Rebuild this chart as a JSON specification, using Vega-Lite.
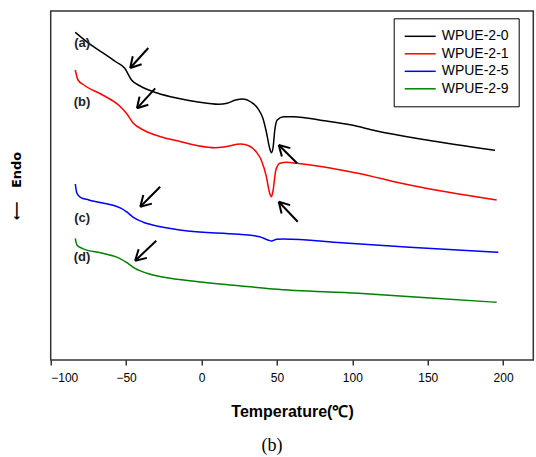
{
  "$schema": "https://vega.github.io/schema/vega-lite/v6.json",
  "width": 482.6,
  "height": 349,
  "autosize": "none",
  "padding": {"left": 50.7, "top": 11, "right": 2.7, "bottom": 97},
  "config": {"view": {"stroke": "#333333", "strokeWidth": 1.5}, "font": "Liberation Sans"},
  "title": {"text": "(b)", "orient": "bottom", "font": "Liberation Serif", "fontSize": 18, "fontWeight": "normal", "color": "black", "offset": 18, "dx": -20},
  "datasets": {
    "curves": [
      {"s": "WPUE-2-0", "t": -83.7, "v": 327.7}, {"s": "WPUE-2-0", "t": -74.7, "v": 316.7}, {"s": "WPUE-2-0", "t": -65.6, "v": 307.4}, {"s": "WPUE-2-0", "t": -56.6, "v": 298}, {"s": "WPUE-2-0", "t": -50.9, "v": 291.7}, {"s": "WPUE-2-0", "t": -46.4, "v": 280}, {"s": "WPUE-2-0", "t": -40.7, "v": 274}, {"s": "WPUE-2-0", "t": -29.4, "v": 267}, {"s": "WPUE-2-0", "t": -15.8, "v": 261.7}, {"s": "WPUE-2-0", "t": -2.3, "v": 258}, {"s": "WPUE-2-0", "t": 11.3, "v": 255.7}, {"s": "WPUE-2-0", "t": 17, "v": 256.7}, {"s": "WPUE-2-0", "t": 22.6, "v": 260}, {"s": "WPUE-2-0", "t": 27.6, "v": 261}, {"s": "WPUE-2-0", "t": 32.8, "v": 258}, {"s": "WPUE-2-0", "t": 37.3, "v": 251.7}, {"s": "WPUE-2-0", "t": 40.7, "v": 241.7}, {"s": "WPUE-2-0", "t": 43, "v": 228}, {"s": "WPUE-2-0", "t": 45.2, "v": 211.7}, {"s": "WPUE-2-0", "t": 46.4, "v": 207.3}, {"s": "WPUE-2-0", "t": 47.5, "v": 213}, {"s": "WPUE-2-0", "t": 48.6, "v": 230}, {"s": "WPUE-2-0", "t": 50.2, "v": 240}, {"s": "WPUE-2-0", "t": 54.3, "v": 243.3}, {"s": "WPUE-2-0", "t": 61, "v": 243.3}, {"s": "WPUE-2-0", "t": 81.4, "v": 239.3}, {"s": "WPUE-2-0", "t": 99.5, "v": 235}, {"s": "WPUE-2-0", "t": 115.4, "v": 229.3}, {"s": "WPUE-2-0", "t": 149.3, "v": 220}, {"s": "WPUE-2-0", "t": 194.6, "v": 209.7},
      {"s": "WPUE-2-1", "t": -83.7, "v": 290}, {"s": "WPUE-2-1", "t": -81.9, "v": 280}, {"s": "WPUE-2-1", "t": -78, "v": 275}, {"s": "WPUE-2-1", "t": -65.6, "v": 265}, {"s": "WPUE-2-1", "t": -54.3, "v": 254}, {"s": "WPUE-2-1", "t": -49.8, "v": 246.7}, {"s": "WPUE-2-1", "t": -45.2, "v": 236.7}, {"s": "WPUE-2-1", "t": -38.5, "v": 230}, {"s": "WPUE-2-1", "t": -27.1, "v": 223.3}, {"s": "WPUE-2-1", "t": -13.6, "v": 218.3}, {"s": "WPUE-2-1", "t": -2.3, "v": 214.3}, {"s": "WPUE-2-1", "t": 9, "v": 212.3}, {"s": "WPUE-2-1", "t": 15.8, "v": 213.3}, {"s": "WPUE-2-1", "t": 26, "v": 216}, {"s": "WPUE-2-1", "t": 31.7, "v": 214}, {"s": "WPUE-2-1", "t": 36.2, "v": 208.3}, {"s": "WPUE-2-1", "t": 39.6, "v": 200}, {"s": "WPUE-2-1", "t": 43, "v": 183.3}, {"s": "WPUE-2-1", "t": 45.2, "v": 166.7}, {"s": "WPUE-2-1", "t": 46.4, "v": 163.3}, {"s": "WPUE-2-1", "t": 47.5, "v": 170}, {"s": "WPUE-2-1", "t": 49.3, "v": 190}, {"s": "WPUE-2-1", "t": 52, "v": 196.7}, {"s": "WPUE-2-1", "t": 56.6, "v": 197.7}, {"s": "WPUE-2-1", "t": 63.3, "v": 196.7}, {"s": "WPUE-2-1", "t": 101.8, "v": 187.3}, {"s": "WPUE-2-1", "t": 138, "v": 175}, {"s": "WPUE-2-1", "t": 195.7, "v": 160},
      {"s": "WPUE-2-5", "t": -83.7, "v": 176}, {"s": "WPUE-2-5", "t": -82.6, "v": 166.7}, {"s": "WPUE-2-5", "t": -80.3, "v": 162.7}, {"s": "WPUE-2-5", "t": -74.7, "v": 160}, {"s": "WPUE-2-5", "t": -53.2, "v": 151.7}, {"s": "WPUE-2-5", "t": -49.8, "v": 148.3}, {"s": "WPUE-2-5", "t": -45.2, "v": 142.7}, {"s": "WPUE-2-5", "t": -38.5, "v": 137.7}, {"s": "WPUE-2-5", "t": -27.1, "v": 133.3}, {"s": "WPUE-2-5", "t": -9, "v": 129}, {"s": "WPUE-2-5", "t": 24.9, "v": 125.7}, {"s": "WPUE-2-5", "t": 38.5, "v": 123.3}, {"s": "WPUE-2-5", "t": 44.1, "v": 120}, {"s": "WPUE-2-5", "t": 46.4, "v": 119}, {"s": "WPUE-2-5", "t": 49.8, "v": 120.7}, {"s": "WPUE-2-5", "t": 54.3, "v": 121}, {"s": "WPUE-2-5", "t": 92.8, "v": 117.3}, {"s": "WPUE-2-5", "t": 138, "v": 112.7}, {"s": "WPUE-2-5", "t": 196.8, "v": 107.7},
      {"s": "WPUE-2-9", "t": -83.7, "v": 121.7}, {"s": "WPUE-2-9", "t": -82.6, "v": 115}, {"s": "WPUE-2-9", "t": -79.2, "v": 111.7}, {"s": "WPUE-2-9", "t": -65.6, "v": 106.7}, {"s": "WPUE-2-9", "t": -54.3, "v": 101.7}, {"s": "WPUE-2-9", "t": -49.8, "v": 97.7}, {"s": "WPUE-2-9", "t": -44.1, "v": 91.7}, {"s": "WPUE-2-9", "t": -36.2, "v": 86.7}, {"s": "WPUE-2-9", "t": -24.9, "v": 82.7}, {"s": "WPUE-2-9", "t": -2.3, "v": 78.3}, {"s": "WPUE-2-9", "t": 24.9, "v": 74.3}, {"s": "WPUE-2-9", "t": 47.5, "v": 71}, {"s": "WPUE-2-9", "t": 104.1, "v": 66.7}, {"s": "WPUE-2-9", "t": 149.3, "v": 62.3}, {"s": "WPUE-2-9", "t": 195.7, "v": 57.7}
    ],
    "labels": [
      {"label": "(a)", "t": -79.2, "v": 316.7},
      {"label": "(b)", "t": -79.2, "v": 258.3},
      {"label": "(c)", "t": -79.2, "v": 141.7},
      {"label": "(d)", "t": -79.2, "v": 103.3}
    ],
    "arrows": [
      {"t": -47.3, "v": 292, "t2": -35.3, "v2": 312}, {"t": -47.3, "v": 292, "t2": -39.7, "v2": 295.7}, {"t": -47.3, "v": 292, "t2": -45.6, "v2": 303.7},
      {"t": -42.8, "v": 251.7, "t2": -30.7, "v2": 271.7}, {"t": -42.8, "v": 251.7, "t2": -35.3, "v2": 255.3}, {"t": -42.8, "v": 251.7, "t2": -41.1, "v2": 263.4},
      {"t": 51.2, "v": 215, "t2": 63.4, "v2": 196.7}, {"t": 51.2, "v": 215, "t2": 53.3, "v2": 203.4}, {"t": 51.2, "v": 215, "t2": 58.9, "v2": 211.9},
      {"t": 51.2, "v": 158.3, "t2": 63.8, "v2": 138.3}, {"t": 51.2, "v": 158.3, "t2": 53.1, "v2": 146.6}, {"t": 51.2, "v": 158.3, "t2": 58.8, "v2": 154.9},
      {"t": -40.6, "v": 153.3, "t2": -27.4, "v2": 173.3}, {"t": -40.6, "v": 153.3, "t2": -32.9, "v2": 156.4}, {"t": -40.6, "v": 153.3, "t2": -38.6, "v2": 164.9},
      {"t": -44.0, "v": 99.3, "t2": -30.0, "v2": 119.3}, {"t": -44.0, "v": 99.3, "t2": -36.2, "v2": 102.1}, {"t": -44.0, "v": 99.3, "t2": -41.7, "v2": 110.8}
    ]
  },
  "layer": [
    {
      "data": {"name": "curves"},
      "mark": {"type": "line", "strokeWidth": 1.5, "interpolate": "monotone"},
      "encoding": {
        "x": {"field": "t", "type": "quantitative",
          "scale": {"domain": [-100, 220], "nice": false, "zero": false},
          "axis": {"values": [-100, -50, 0, 50, 100, 150, 200], "domain": false, "grid": false, "tickSize": 5, "tickColor": "black", "tickWidth": 1.2,
            "labelFont": "Liberation Sans", "labelFontSize": 12, "labelColor": "black", "labelPadding": 7,
            "title": "Temperature(℃)", "titleFont": "Liberation Sans", "titleFontSize": 16, "titleFontWeight": "bold", "titleColor": "black", "titlePadding": 20}},
        "y": {"field": "v", "type": "quantitative",
          "scale": {"domain": [0, 349], "nice": false, "zero": false},
          "axis": {"labels": false, "ticks": false, "domain": false, "grid": false,
            "title": "⟵\u00a0\u00a0\u00a0Endo", "titleFont": "DejaVu Sans", "titleFontSize": 13, "titleFontWeight": "bold", "titleColor": "black", "titlePadding": 27}},
        "color": {"field": "s", "type": "nominal",
          "scale": {"domain": ["WPUE-2-0", "WPUE-2-1", "WPUE-2-5", "WPUE-2-9"], "range": ["#000000", "#ff0000", "#0000ff", "#008000"]},
          "legend": {"title": null, "orient": "none", "legendX": 343, "legendY": 7.3, "strokeColor": "black", "fillColor": "white", "padding": 10,
            "symbolType": "M-1,0H3.43", "symbolSize": 196, "symbolStrokeWidth": 1.5, "labelFont": "Liberation Sans", "labelFontSize": 14, "labelColor": "black", "labelOffset": 22, "rowPadding": 2.5}}
      }
    },
    {
      "data": {"name": "labels"},
      "mark": {"type": "text", "font": "Liberation Sans", "fontSize": 13, "fontWeight": "bold", "color": "#222222", "align": "center", "baseline": "middle"},
      "encoding": {
        "x": {"field": "t", "type": "quantitative"},
        "y": {"field": "v", "type": "quantitative"},
        "text": {"field": "label"}
      }
    },
    {
      "data": {"name": "arrows"},
      "mark": {"type": "rule", "strokeWidth": 2, "color": "black"},
      "encoding": {
        "x": {"field": "t", "type": "quantitative"},
        "y": {"field": "v", "type": "quantitative"},
        "x2": {"field": "t2"},
        "y2": {"field": "v2"}
      }
    }
  ]
}
